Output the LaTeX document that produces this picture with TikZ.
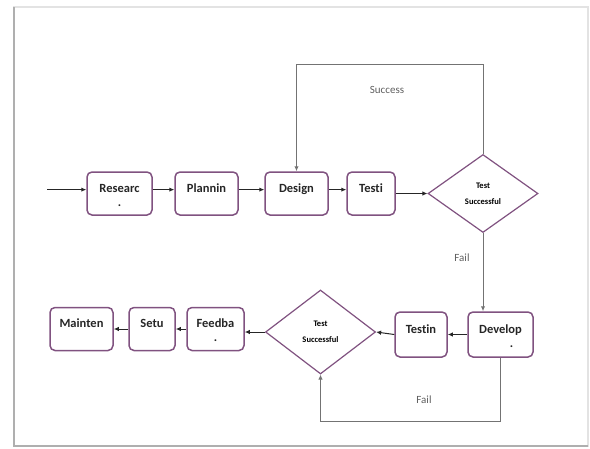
\documentclass[tikz,border=0pt]{standalone}
\usepackage{fontspec}
\setmainfont[Ligatures=NoCommon]{Carlito}
\usetikzlibrary{arrows.meta}
\usetikzlibrary{calc}
\usetikzlibrary{shapes.geometric}

\definecolor{boxpurple}{RGB}{128,82,128}
\definecolor{loopgray}{RGB}{115,115,115}
\definecolor{framegray}{RGB}{175,175,175}
\definecolor{labelgray}{RGB}{95,95,95}

\newcommand{\dotbelow}[2][0pt]{\begin{tabular}[t]{@{}c@{}}#2\\\hspace*{#1}.\end{tabular}}

\tikzset{
  stage/.style={rectangle, rounded corners=5pt, draw=boxpurple, line width=1.5pt, fill=white,
    font=\bfseries\fontsize{12.5}{14}\selectfont, text=black!85, inner xsep=2pt, inner ysep=4pt,
    text height=16pt, text depth=19pt, minimum height=43pt},
  check/.style={diamond, draw=boxpurple, line width=1.2pt, fill=white,
    font=\bfseries\fontsize{8.5}{16}\selectfont, align=center, inner sep=0pt},
  flow/.style={-{Latex[length=5pt,width=4.5pt]}, line width=1pt, black!85},
  loop/.style={-{Latex[length=5pt,width=4.5pt]}, line width=1pt, loopgray},
  answer/.style={font=\fontsize{11}{13}\selectfont, text=labelgray}
}

\begin{document}
\begin{tikzpicture}[x=1pt, y=-1pt]
  \useasboundingbox (0,0) rectangle (590,448);
  % page frame
  \draw[framegray!35, line width=1.5pt] (14,7) rectangle (588,446);
  \draw[framegray, line width=2.5pt] (14,7) -- (14,446) -- (588,446);

  % top row
  \node[stage, minimum width=65pt] (research) at (119.5,193.5) {\dotbelow{Researc}};
  \node[stage, minimum width=63pt] (planning) at (206.5,193.5) {Plannin};
  \node[stage, minimum width=63pt] (design) at (296.5,193.5) {Design};
  \node[stage, minimum width=48pt] (testing) at (371,193.5) {Testi};
  \node[check, minimum width=110pt, minimum height=78pt] (test1) at (483,193.5) {Test\\Successful};

  % bottom row
  \node[stage, minimum width=65pt, minimum height=45pt] (develop) at (500.5,334.5) {\dotbelow[22pt]{Develop}};
  \node[stage, minimum width=52pt, minimum height=45pt] (testin) at (421,334.5) {Testin};
  \node[check, minimum width=110pt, minimum height=84pt] (test2) at (320.5,332) {Test\\Successful};
  \node[stage, minimum width=57pt] (feedback) at (215.5,329) {\dotbelow{Feedba}};
  \node[stage, minimum width=46pt] (setup) at (152,329) {Setu};
  \node[stage, minimum width=63pt] (maint) at (81.5,329) {Mainten};

  % labels
  \node[answer] (success) at (387,90) {Success};
  \node[answer] (fail1) at (462,258) {Fail};
  \node[answer] (fail2) at (424,400) {Fail};

  % connectors
  \coordinate (start) at ([xshift=-39pt]research.mid west);
  \draw[flow] (start) -- (research.mid west);
  \draw[flow] (research.mid east) -- (planning.mid west);
  \draw[flow] (planning.mid east) -- (design.mid west);
  \draw[flow] (design.mid east) -- (testing.mid west);
  \draw[flow] (testing.east) -- (test1.west);
  \draw[loop] (test1.north) -- ++(0,-89) -| (design.north);
  \draw[loop] (test1.south) -- (test1.south |- develop.north);
  \draw[flow] (develop.west) -- (testin.east);
  \draw[flow] (testin.west) -- (test2.east);
  \draw[flow] (test2.west) -- (test2.west -| feedback.east);
  \draw[flow] (feedback.west) -- (setup.east);
  \draw[flow] (setup.west) -- (maint.east);
  \draw[loop] (develop.south) -- ++(0,64) -| (test2.south);
\end{tikzpicture}
\end{document}
